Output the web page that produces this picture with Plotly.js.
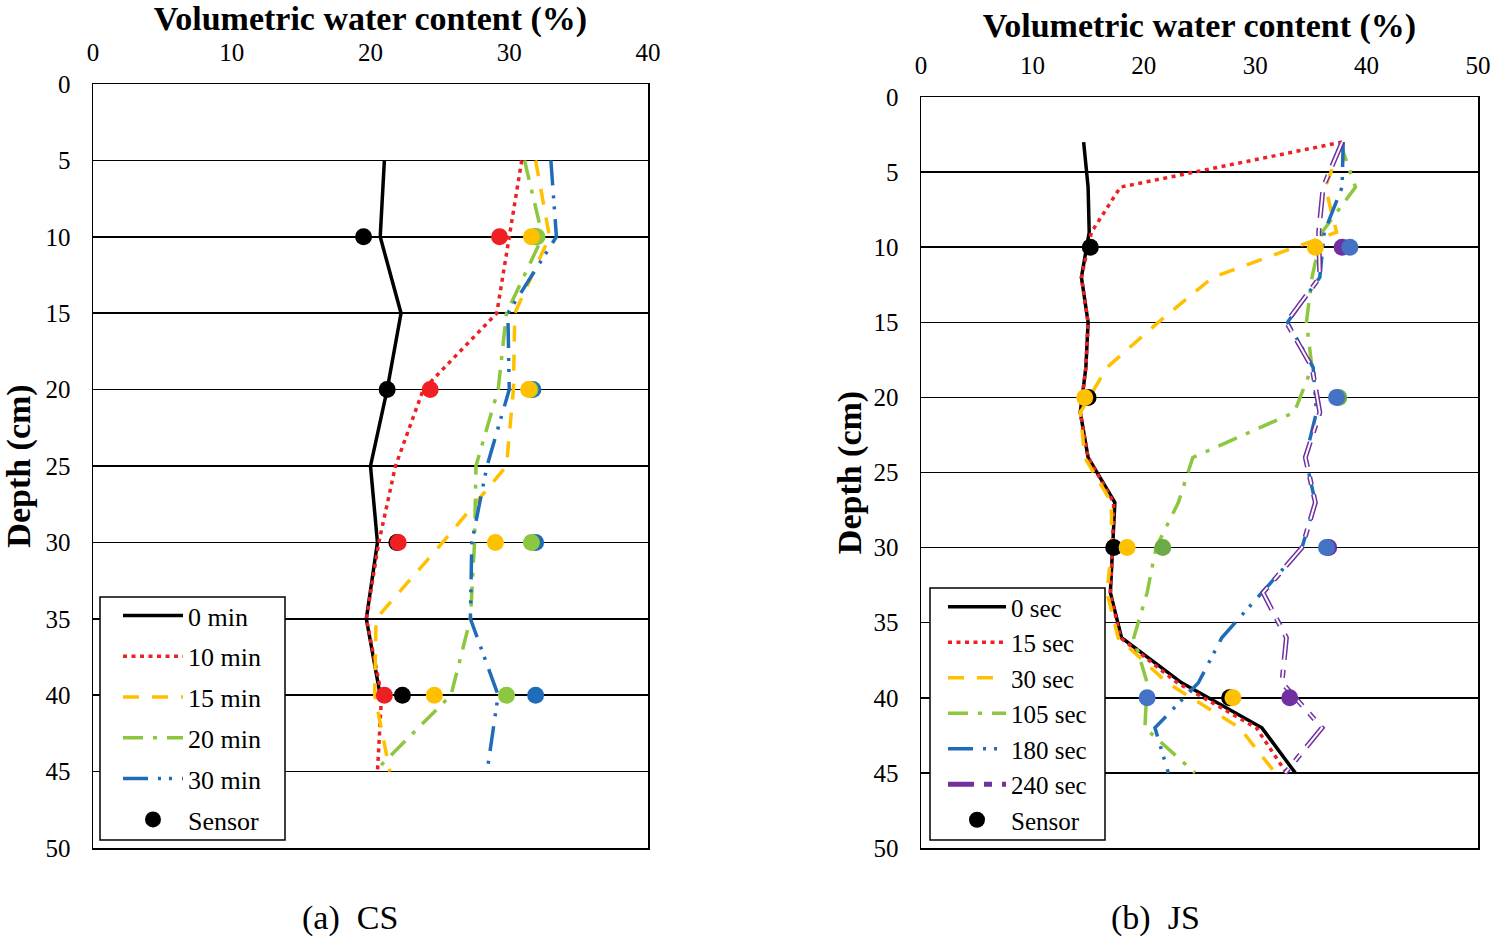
<!DOCTYPE html>
<html>
<head>
<meta charset="utf-8">
<script src="https://cdn.plot.ly/plotly-3.0.1.min.js"></script>
<style>html,body{margin:0;padding:0;background:#fff;}#chart{width:1498px;height:941px;}</style>
</head>
<body>
<div id="chart"></div>
<script>
// ---------- (a) CS ----------
const csDepth = [5, 10, 15, 20, 25, 30, 35, 40, 45];
const csDepth0 = [5, 10, 15, 20, 25, 30, 35, 40];
const cs0min  = [21.0, 20.7, 22.2, 21.2, 20.0, 20.5, 19.7, 20.7];
const cs10min = [30.9, 30.0, 29.1, 23.8, 21.8, 20.6, 19.7, 20.8, 20.5];
const cs15min = [31.9, 32.9, 30.4, 30.3, 29.8, 25.2, 20.4, 20.3, 21.4];
const cs20min = [31.1, 32.4, 29.8, 29.2, 27.6, 27.5, 27.2, 25.8, 20.3];
const cs30min = [33.0, 33.4, 29.9, 30.0, 28.4, 27.3, 27.2, 29.2, 28.4];
const csSensorDepth = [10, 20, 30, 40];
const csSensor0  = [19.5, 21.2, 21.9, 22.3];
const csSensor10 = [29.3, 24.3, 22.0, 21.0];
const csSensor15 = [31.6, 31.4, 29.0, 24.6];
const csSensor20 = [32.0, 31.5, 31.6, 29.8];
const csSensor30 = [31.9, 31.7, 31.9, 31.9];
const csNames = ["0 min", "10 min", "15 min", "20 min", "30 min"];

// ---------- (b) JS ----------
const jsDepth = [3, 6, 9, 12, 15, 18, 21, 24, 27, 30, 33, 36, 39, 42, 45];
const js0   = [14.6, 15.0, 15.1, 14.4, 15.0, 14.8, 14.3, 15.0, 17.4, 17.2, 17.0, 18.0, 23.4, 30.6, 33.6];
const js15  = [37.8, 17.9, 15.3, 14.4, 15.0, 14.8, 14.3, 15.0, 17.3, 17.2, 17.0, 17.9, 23.0, 30.1, 32.8];
const js30  = [37.8, 36.3, 37.3, 26.2, 21.3, 16.7, 14.3, 14.7, 17.1, 17.1, 16.7, 17.7, 22.1, 28.6, 31.8];
const js105 = [37.6, 39.0, 36.0, 35.1, 34.6, 35.1, 33.5, 24.4, 23.1, 21.1, 20.3, 19.1, 20.3, 20.1, 24.6];
const js180 = [37.9, 37.8, 36.2, 35.8, 32.9, 35.2, 35.5, 34.5, 35.4, 34.2, 30.6, 27.0, 24.9, 21.0, 22.2];
const js240 = [37.8, 36.1, 35.7, 35.8, 32.8, 35.1, 35.8, 34.5, 35.4, 34.2, 30.7, 32.8, 32.4, 36.0, 32.7];
const jsSensorDepth0 = [10, 20, 30, 40];
const jsSensor0 = [15.2, 15.0, 17.3, 27.7];
const jsSensorDepth30 = [10, 20, 30, 40];
const jsSensor30 = [35.4, 14.7, 18.5, 28.0];
const jsSensorDepth105 = [20, 30];
const jsSensor105 = [37.5, 21.7];
const jsSensorDepth180 = [10, 20, 30, 40];
const jsSensor180 = [38.5, 37.3, 36.4, 20.3];
const jsSensorDepth240 = [10, 30, 40];
const jsSensor240 = [37.8, 36.6, 33.1];
const jsNames = ["0 sec", "15 sec", "30 sec", "105 sec", "180 sec", "240 sec"];

const xTicksCS = [0, 10, 20, 30, 40];
const xTicksJS = [0, 10, 20, 30, 40, 50];
const yTicks = [0, 5, 10, 15, 20, 25, 30, 35, 40, 45, 50];

const C = {black: "#000000", red: "#EE2024", yellow: "#FFC000", green: "#8DC63F", blue: "#1F6DB9", purple: "#7030A0",
           dotGreen2: "#6AAB45", dotBlue2: "#4472C4"};
const D = {dot: "4px,4.5px", dash: "16px,13px", dashdot: "20px,10px,4px,10px", dashdotdot: "25px,10px,3px,8px,3px,10px", purple: "26px,10px,8px,10px"};

function line(x, y, name, color, dash, width, xa, ya, leg, grp, show) {
  return {type: "scatter", mode: "lines", x: x, y: y, name: name, xaxis: xa, yaxis: ya,
    line: {color: color, width: width, dash: dash}, legend: leg, legendgroup: grp,
    showlegend: show !== false, hoverinfo: "skip"};
}
function dots(x, y, name, color, xa, ya, leg, grp, show) {
  return {type: "scatter", mode: "markers", x: x, y: y, name: name, xaxis: xa, yaxis: ya,
    marker: {color: color, size: 17, line: {width: 0}}, legend: leg, legendgroup: grp,
    showlegend: !!show, hoverinfo: "skip"};
}

const traces = [
  line(cs0min, csDepth0, csNames[0], C.black, "solid", 3.5, "x", "y", "legend", "a0"),
  line(cs10min, csDepth, csNames[1], C.red, D.dot, 3.5, "x", "y", "legend", "a1"),
  line(cs15min, csDepth, csNames[2], C.yellow, D.dash, 3.5, "x", "y", "legend", "a2"),
  line(cs20min, csDepth, csNames[3], C.green, D.dashdot, 3.5, "x", "y", "legend", "a3"),
  line(cs30min, csDepth, csNames[4], C.blue, D.dashdotdot, 3.5, "x", "y", "legend", "a4"),
  dots(csSensor0, csSensorDepth, "Sensor", C.black, "x", "y", "legend", "a5", true),
  dots(csSensor30, csSensorDepth, "s30", C.blue, "x", "y", "legend", "a5", false),
  dots(csSensor20, csSensorDepth, "s20", C.green, "x", "y", "legend", "a5", false),
  dots(csSensor15, csSensorDepth, "s15", C.yellow, "x", "y", "legend", "a5", false),
  dots(csSensor10, csSensorDepth, "s10", C.red, "x", "y", "legend", "a5", false),

  line(js0, jsDepth, jsNames[0], C.black, "solid", 3.5, "x2", "y2", "legend2", "b0"),
  line(js15, jsDepth, jsNames[1], C.red, D.dot, 3.5, "x2", "y2", "legend2", "b1"),
  line(js30, jsDepth, jsNames[2], C.yellow, D.dash, 3.5, "x2", "y2", "legend2", "b2"),
  line(js105, jsDepth, jsNames[3], C.green, D.dashdot, 3.5, "x2", "y2", "legend2", "b3"),
  line(js180, jsDepth, jsNames[4], C.blue, D.dashdotdot, 3.5, "x2", "y2", "legend2", "b4"),
  line(js240, jsDepth, jsNames[5], C.purple, D.purple, 5, "x2", "y2", "legend2", "b5"),
  line(js240, jsDepth, jsNames[5], "#ffffff", D.purple, 2, "x2", "y2", "legend2", "b5", false),
  dots(jsSensor0, jsSensorDepth0, "Sensor", C.black, "x2", "y2", "legend2", "b6", true),
  dots(jsSensor105, jsSensorDepth105, "s105", C.dotGreen2, "x2", "y2", "legend2", "b6", false),
  dots(jsSensor240, jsSensorDepth240, "s240", C.purple, "x2", "y2", "legend2", "b6", false),
  dots(jsSensor180, jsSensorDepth180, "s180", C.dotBlue2, "x2", "y2", "legend2", "b6", false),
  dots(jsSensor30, jsSensorDepth30, "s30", C.yellow, "x2", "y2", "legend2", "b6", false)
];

const serif = "Liberation Serif, Times New Roman, serif";
const W = 1498, H = 941;
function xAxis(l, r, ticks, rng, anchor, so) {
  return {domain: [l / W, r / W], anchor: anchor, side: "top", range: rng, tickvals: ticks, ticktext: ticks.map(String),
    showgrid: false, zeroline: false, showline: true, mirror: true, linecolor: "#000", linewidth: 1.5, ticks: "",
    ticklabelstandoff: 12, tickfont: {family: serif, size: 25, color: "#000"},
    title: {text: "<b>Volumetric water content (%)</b>", font: {family: serif, size: 34, color: "#000"}, standoff: so}};
}
function yAxis(t, b, anchor, so) {
  return {domain: [1 - b / H, 1 - t / H], anchor: anchor, range: [50, 0], tickvals: yTicks, ticktext: yTicks.map(String),
    showgrid: true, gridcolor: "#000", gridwidth: 1.5, zeroline: false, showline: true, mirror: true, linecolor: "#000", linewidth: 1.5,
    ticks: "", ticklabelstandoff: 16, tickfont: {family: serif, size: 25, color: "#000"},
    title: {text: "<b>Depth (cm)</b>", font: {family: serif, size: 34, color: "#000"}, standoff: so}};
}
function px(x) { return x / W; }
function py(y) { return 1 - y / H; }

const layout = {
  width: W, height: H, margin: {l: 0, r: 0, t: 0, b: 0}, paper_bgcolor: "#fff", plot_bgcolor: "#fff",
  font: {family: serif, color: "#000"},
  xaxis: xAxis(93, 648, xTicksCS, [0, 40], "y", 11),
  yaxis: yAxis(84, 848, "x", 6),
  xaxis2: xAxis(921, 1478, xTicksJS, [0, 50], "y2", 3),
  yaxis2: yAxis(97, 848, "x2", 1),
  shapes: [
    {type: "rect", xref: "paper", yref: "paper", x0: px(100), x1: px(285), y0: py(840), y1: py(597),
     fillcolor: "#fff", line: {color: "#000", width: 1.5}, layer: "above"},
    {type: "rect", xref: "paper", yref: "paper", x0: px(930), x1: px(1105), y0: py(840), y1: py(588),
     fillcolor: "#fff", line: {color: "#000", width: 1.5}, layer: "above"}
  ],
  legend: {x: px(118), y: py(592), xanchor: "left", yanchor: "top", bgcolor: "rgba(0,0,0,0)", borderwidth: 0,
    font: {family: serif, size: 26, color: "#000"}, traceorder: "grouped", tracegroupgap: 4, itemwidth: 60},
  legend2: {x: px(943), y: py(584), xanchor: "left", yanchor: "top", bgcolor: "rgba(0,0,0,0)", borderwidth: 0,
    font: {family: serif, size: 25, color: "#000"}, traceorder: "grouped", tracegroupgap: 0, itemwidth: 58},
  annotations: [
    {text: "(a)\u00a0\u00a0CS", x: px(350), y: py(918), xref: "paper", yref: "paper", xanchor: "center", yanchor: "middle", showarrow: false, font: {family: serif, size: 34, color: "#000"}},
    {text: "(b)\u00a0\u00a0JS", x: px(1155), y: py(918), xref: "paper", yref: "paper", xanchor: "center", yanchor: "middle", showarrow: false, font: {family: serif, size: 34, color: "#000"}}
  ]
};

Plotly.newPlot("chart", traces, layout, {staticPlot: true, displayModeBar: false});
</script>
</body>
</html>
